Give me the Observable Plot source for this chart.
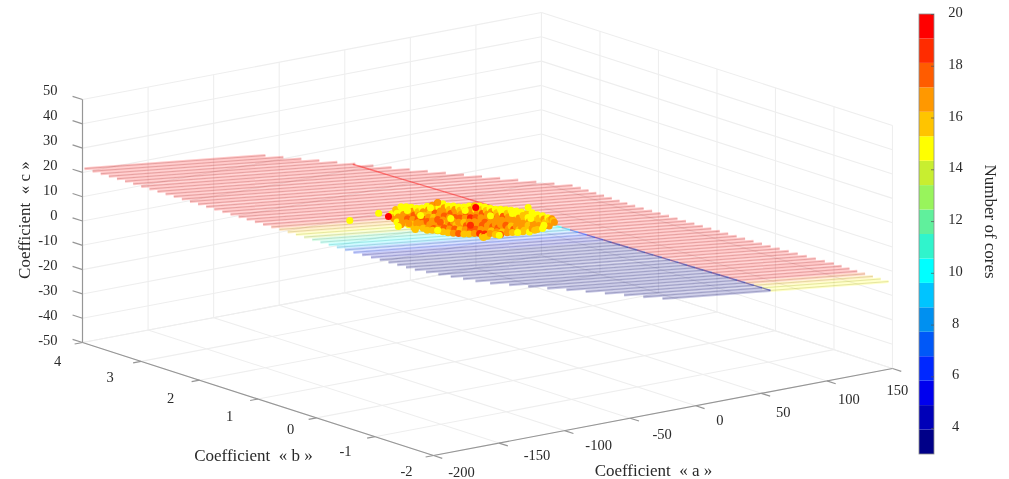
<!DOCTYPE html>
<html>
<head>
<meta charset="utf-8">
<script src="https://cdn.jsdelivr.net/npm/d3@7"></script>
<script src="https://cdn.jsdelivr.net/npm/@observablehq/plot@0.6"></script>
<style>
html,body{margin:0;padding:0;background:#fff;overflow:hidden}
#chart{position:relative;width:1009px;height:479px}
#chart svg{filter:blur(0.45px);background:transparent;overflow:visible;max-width:none}
</style>
</head>
<body>
<div id="chart"></div>
<script>
// ---- axis ticks ----
const aTicks = [-200,-150,-100,-50,0,50,100,150];
const bTicks = [-2,-1,0,1,2,3,4];
const cTicks = [-50,-40,-30,-20,-10,0,10,20,30,40,50];
const coreTicks = [4,6,8,10,12,14,16,18,20];

// ---- colour bar levels, bottom to top ----
const coreRange = [3,20];
const bandColors = ["#000088","#0000b8","#0000ee","#0028ff","#0058f8","#0090f0","#00c4ff","#00ffff","#30f4cc",
                    "#60f09c","#98f45c","#c8ee30","#ffff00","#ffc400","#ff9800","#ff5c00","#ff2c00","#ff0000"];

// ---- fitted surface, read at the edges of the mesh (row position, a, c) ----
const rowCount = 56;
const leftEdgeT = [0,0.372,0.594,0.733,0.830,0.894,1];
const leftEdgeA = [-198.5,-171.5,-154.6,-140.7,-116.4,-82.4,-25.4];
const leftEdgeC = [21.4,14.6,10.4,7.65,4.7,1.8,-3.3];
const rightEdgeT = [0,0.086,0.31,0.451,0.595,0.739,0.872,1];
const rightEdgeA = [-60.5,-18.7,91.4,99.5,112,124.5,139.3,147];
const rightEdgeC = [12.7,9.1,-0.8,-3.3,-6.1,-8.9,-11.65,-13.9];
const foldT = [0.086,1];
const foldA = [-18.7,57];
const leftCoresT = [0,0.40,0.44,0.47,0.50,0.53,0.56,0.59,0.63,1];
const leftCores = [20,20,16,15,13,11,9,7,4,3];
const rightCoresT = [0,0.92,0.95,0.97,1];
const rightCores = [20,20,17,15,15];

// ---- scatter points (all read on the plane b = 1) ----
const pointB = 1;
const pointA = [
-98,-97,-96,
-95,-94,-93,-94,
-91,-90,-89,-90,-91,
-87,-86,-85,-86,-87,-85,
-83,-82,-81,-82,-83,-81,
-79,-78,-77,-78,-79,-77,-78,
-75,-74,-73,-74,-75,-73,-74,
-71,-70,-69,-70,-71,-69,-70,-71,
-67,-66,-65,-66,-67,-65,-66,-67,
-63,-62,-61,-62,-63,-61,-62,-63,
-59,-58,-57,-58,-59,-57,-58,-59,
-55,-54,-53,-54,-55,-53,-54,-55,
-51,-50,-49,-50,-51,-49,-50,-51,
-47,-46,-45,-46,-47,-45,-46,-47,
-43,-42,-41,-42,-43,-41,-42,-43,
-39,-38,-37,-38,-39,-37,-38,-39,
-35,-34,-33,-34,-35,-33,-34,-35,
-31,-30,-29,-30,-31,-29,-30,-31,-29,
-27,-26,-25,-26,-27,-25,-26,-27,-25,
-23,-22,-21,-22,-23,-21,-22,-23,
-19,-18,-17,-18,-19,-17,-18,-19,
-15,-14,-13,-14,-15,-13,-14,-15,
-11,-10,-9,-10,-11,-9,-10,
-7,-6,-5,-6,-7,-5,-6,
-3,-2,-1,-2,-3,-1,-2,
1,2,3,2,1,3,2,
5,6,7,6,5,7,
9,10,11,10,9,11,
13,14,15,14,13,
17,18,19,18,17,
21,22,23,22,
24,25,26,
-86,-68.5,-42,-6,8,18,-63,-2,-53,-22.7,-76,-38,-61,
-130,-108,-100.5,-93,-85,-80,-63,-34,-28,-16,6
];
const pointC = [
15.8,14.2,13.4,
17.2,15.6,14.0,12.0,
18.0,16.3,14.6,12.6,10.6,
17.6,16.0,14.2,12.5,11.0,9.9,
16.9,15.2,13.4,11.8,9.9,8.3,
16.1,14.6,13.0,11.4,9.7,8.6,10.2,
15.8,14.2,12.6,11.1,9.4,7.9,7.4,
16.1,14.6,13.0,11.5,9.9,8.4,7.0,6.3,
16.1,14.4,12.7,11.1,9.6,8.0,6.5,5.8,
16.8,15.0,13.2,11.5,9.9,8.2,6.6,5.2,
15.9,14.2,12.6,10.8,9.2,7.6,6.0,4.4,
14.6,13.0,11.3,9.8,8.2,6.6,5.0,3.6,
14.2,12.6,11.0,9.4,7.8,6.2,4.6,3.0,
13.4,11.9,10.3,8.7,7.1,5.5,3.9,2.5,
13.0,11.4,9.9,8.3,6.7,5.1,3.5,1.8,
13.0,11.3,9.7,8.0,6.4,4.8,3.2,1.4,
12.6,10.9,9.3,7.7,6.1,4.5,2.9,1.2,
12.1,10.5,8.8,7.2,5.6,4.0,2.4,0.8,-0.5,
11.3,9.8,8.2,6.6,5.0,3.4,1.8,0.2,-0.9,
10.4,8.9,7.4,5.8,4.2,2.6,1.0,0.0,
9.6,8.0,6.5,4.9,3.3,1.7,0.2,-0.8,
9.2,7.6,6.1,4.5,2.9,1.3,-0.3,-1.2,
8.6,7.0,5.4,3.8,2.2,0.6,-1.0,
7.9,6.3,4.7,3.1,1.5,-0.1,-1.3,
7.2,5.7,4.1,2.5,0.9,-0.7,-1.6,
6.4,4.9,3.3,1.7,0.1,-1.3,-1.8,
5.2,3.6,2.0,0.4,-1.2,-2.4,
5.3,3.6,2.0,0.4,-1.2,-2.1,
4.0,2.5,1.0,-0.5,-2.0,
3.2,1.8,0.3,-1.3,-2.0,
2.0,0.8,-0.5,-1.5,
1.3,0.4,-0.4,
15.9,15.3,11.4,6.5,3.0,-0.8,5.4,-1.7,9.2,7.3,12.8,4.9,8.5,
16.3,17.0,14.9,10,10.5,7.5,16.9,11.8,-1.1,-1.4,7.7
];
const pointCores = [
15,16,17,
16,15,17,15,
15,15,17,17,17,
15,15,17,18,17,15,
15,17,18,17,16,16,
15,16,17,18,17,16,17,
15,17,16,18,17,17,16,
15,17,16,17,18,17,17,16,
17,16,18,16,17,17,18,16,
18,15,17,17,18,17,17,16,
15,17,17,18,17,16,18,16,
15,16,18,17,17,18,17,16,
15,17,17,18,17,16,18,17,
15,16,17,18,17,17,16,18,
15,17,18,17,16,18,17,16,
15,17,17,19,17,16,18,16,
16,15,17,18,17,17,18,17,
15,16,18,17,17,18,17,19,16,
15,16,17,17,18,17,17,19,16,
15,17,18,17,17,18,16,17,
15,16,17,17,17,18,17,16,
15,15,18,17,17,17,16,18,
15,16,17,17,18,17,17,
15,16,17,17,16,18,16,
15,15,17,17,17,16,16,
15,16,16,17,17,16,16,
16,15,17,16,16,15,
15,15,16,17,17,16,
15,16,16,17,16,
15,17,16,16,15,
15,16,16,17,
17,16,17,
15,15,15,15,15,15,15,15,15,15,15,19,18,
15,15,20,15,17,16,17,20,16,15,15
];

// ---- labels ----
const aTitle = "Coefficient\u00a0\u00a0«\u00a0a\u00a0»";
const bTitle = "Coefficient\u00a0\u00a0«\u00a0b\u00a0»";
const cTitle = "Coefficient\u00a0\u00a0«\u00a0c\u00a0»";
const coreTitle = "Number of cores";

// ---- orthographic view of the box ----
const P = (a,b,c) => [
  433 + 1.3114*(a+200) - 58.5*(b+2),
  455 - 0.2486*(a+200) - 18.83*(b+2) - 2.43*(c+50)
];
const aMin=-200, aMax=150, bMin=-2, bMax=4, cMin=-50, cMax=50;

// segments in data space
const seg = (p,q) => ({p,q});
const grid = [];
for (const c of cTicks) {
  grid.push(seg([aMin,bMax,c],[aMax,bMax,c]), seg([aMax,bMax,c],[aMax,bMin,c]));
}
for (const a of aTicks) {
  grid.push(seg([a,bMax,cMin],[a,bMax,cMax]), seg([a,bMax,cMin],[a,bMin,cMin]));
}
for (const b of bTicks) {
  grid.push(seg([aMax,b,cMin],[aMax,b,cMax]), seg([aMin,b,cMin],[aMax,b,cMin]));
}
const axes = [
  seg([aMin,bMax,cMin],[aMin,bMax,cMax]),
  seg([aMin,bMax,cMin],[aMin,bMin,cMin]),
  seg([aMin,bMin,cMin],[aMax,bMin,cMin])
];
for (const a of aTicks) axes.push(seg([a,bMin,cMin],[a,bMin-0.15,cMin]));
for (const b of bTicks) axes.push(seg([aMin,b,cMin],[aMin-6,b,cMin]));
for (const c of cTicks) axes.push(seg([aMin,bMax,c],[aMin,bMax+0.17,c]));

// mesh rows
const edge = (t,v) => d3.scaleLinear().domain(t).range(v);
const lA=edge(leftEdgeT,leftEdgeA), lC=edge(leftEdgeT,leftEdgeC);
const rA=edge(rightEdgeT,rightEdgeA), rC=edge(rightEdgeT,rightEdgeC);
const fA=edge(foldT,foldA);
const lN=edge(leftCoresT,leftCores), rN=edge(rightCoresT,rightCores);
const rowSegs=[], foldPts=[];
for (let i=0;i<rowCount;i++){
  const t=i/(rowCount-1), b=bMax-(bMax-bMin)*t;
  const a0=lA(t), c0=lC(t), a1=rA(t), c1=rC(t);
  if (t<foldT[0]) {
    rowSegs.push({...seg([a0,b,c0],[a1,b,c1]),cores:lN(t)});
  } else {
    const af=fA(t), cf=c0+(c1-c0)*(af-a0)/(a1-a0);
    rowSegs.push({...seg([a0,b,c0],[af,b,cf]),cores:lN(t)});
    rowSegs.push({...seg([af,b,cf],[a1,b,c1]),cores:rN(t)});
    foldPts.push({pt:[af,b,cf],cores:lN(t)});
  }
}
const foldSegs = foldPts.slice(1).map((d,i)=>({...seg(foldPts[i].pt,d.pt),cores:d.cores}));

const points = pointA.map((a,i)=>({a,c:pointC[i],cores:pointCores[i]}));

// colour scale shared by surface, points and colour bar
const step=(coreRange[1]-coreRange[0])/bandColors.length;
const thresholds=d3.range(1,bandColors.length).map(i=>coreRange[0]+i*step);
const colorOpt={type:"threshold",domain:thresholds,range:bandColors};

const lx1=d=>P(...d.p)[0], ly1=d=>P(...d.p)[1], lx2=d=>P(...d.q)[0], ly2=d=>P(...d.q)[1];
const ends={x1:lx1,y1:ly1,x2:lx2,y2:ly2};
const serif="Liberation Serif";
const ink="#2a2a2a";

const aNudge={"-200":[28,17],"-150":[38,12],"-100":[34,15],"-50":[32,16],"0":[24,15],"50":[22,19],"100":[22,18.5],"150":[5,22]};
const bNudge={"4":[-25,19],"3":[-31,16],"2":[-29,18],"1":[-28.5,17],"0":[-26,12],"-1":[-29.5,15],"-2":[-27,15.5]};

const main = Plot.plot({
  width:1009,height:479,margin:0,
  style:{position:"absolute",left:"0",top:"0"},
  x:{domain:[0,1009],range:[0,1009],axis:null},
  y:{domain:[0,479],range:[0,479],axis:null},
  color:colorOpt,
  marks:[
    Plot.link(grid,{...ends,stroke:"#eeeeee",strokeWidth:1.1}),
    Plot.link(axes,{...ends,stroke:"#969696",strokeWidth:1.2}),
    Plot.link(rowSegs,{...ends,stroke:"cores",strokeWidth:3,strokeOpacity:0.22}),
    Plot.link(rowSegs,{...ends,stroke:"cores",strokeWidth:1,strokeOpacity:0.14}),
    Plot.link(rowSegs,{...ends,stroke:"#666",strokeWidth:0.5,strokeOpacity:0.32}),
    Plot.link(foldSegs,{...ends,stroke:"cores",strokeWidth:1.4,strokeOpacity:0.45}),
    Plot.dot(points,{x:d=>P(d.a,pointB,d.c)[0],y:d=>P(d.a,pointB,d.c)[1],r:3.5,fill:"cores",stroke:"none"}),
    Plot.text(cTicks,{x:c=>P(aMin,bMax,c)[0],y:c=>P(aMin,bMax,c*1.029)[1],dx:-25,dy:-5.5,text:d=>String(d),textAnchor:"end",fontFamily:serif,fontSize:14.5,fill:ink}),
    Plot.text(bTicks,{x:b=>P(aMin,b,cMin)[0]+bNudge[b][0],y:b=>P(aMin,b,cMin)[1]+bNudge[b][1],text:d=>String(d),fontFamily:serif,fontSize:14.5,fill:ink}),
    Plot.text(aTicks,{x:a=>P(a,bMin,cMin)[0]+aNudge[a][0],y:a=>P(a,bMin,cMin)[1]+aNudge[a][1],text:d=>String(d),fontFamily:serif,fontSize:14.5,fill:ink}),
    Plot.text([aTitle],{x:()=>P(-25,bMin,cMin)[0],y:()=>P(-25,bMin,cMin)[1],dx:-9.5,dy:59,text:d=>d,fontFamily:serif,fontSize:17,fill:ink}),
    Plot.text([bTitle],{x:()=>P(aMin,1,cMin)[0],y:()=>P(aMin,1,cMin)[1],dx:-4.5,dy:57,text:d=>d,fontFamily:serif,fontSize:17,fill:ink}),
    Plot.text([cTitle],{x:()=>P(aMin,bMax,0)[0],y:()=>P(aMin,bMax,0)[1],dx:-58,dy:-1,rotate:-90,text:d=>d,fontFamily:serif,fontSize:17,fill:ink})
  ]
});

const bands = bandColors.map((_,i)=>({y1:coreRange[0]+i*step,y2:coreRange[0]+(i+1)*step,cores:coreRange[0]+(i+0.5)*step}));
const bar = Plot.plot({
  width:94,height:479,margin:0,
  style:{position:"absolute",left:"915px",top:"0"},
  x:{domain:[0,1],range:[4,19],axis:null},
  y:{domain:coreRange,range:[454,14],axis:null},
  color:colorOpt,
  marks:[
    Plot.rect(bands,{x1:0,x2:1,y1:"y1",y2:"y2",fill:"cores"}),
    Plot.rect([coreRange],{x1:0,x2:1,y1:d=>d[0],y2:d=>d[1],fill:"none",stroke:"#8c8c8c",strokeWidth:0.8}),
    Plot.ruleY(coreTicks,{y:d=>d,x1:0.8,x2:1,stroke:"#555",strokeWidth:0.7}),
    Plot.text(coreTicks,{x:1,y:d=>d,dx:21,dy:-2,text:d=>String(d),fontFamily:serif,fontSize:14.5,fill:ink}),
    Plot.text([coreTitle],{x:1,y:12,dx:56,rotate:90,text:d=>d,fontFamily:serif,fontSize:17,fill:ink})
  ]
});
const chart=document.getElementById("chart");
chart.append(main,bar);
</script>
</body>
</html>
